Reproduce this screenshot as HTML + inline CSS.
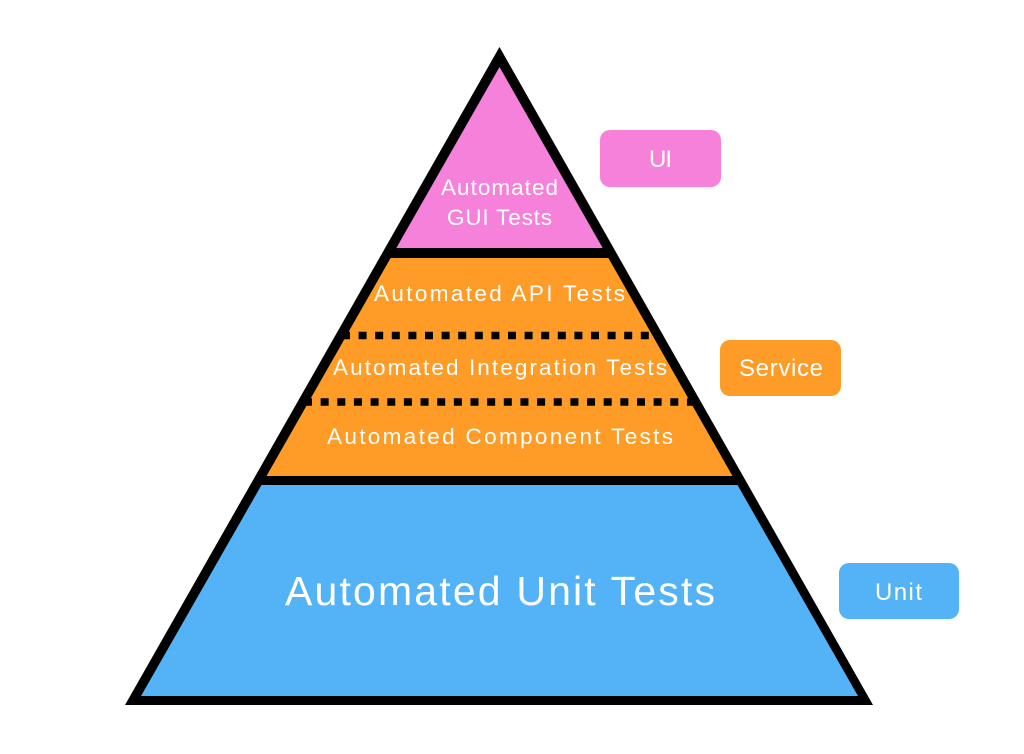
<!DOCTYPE html>
<html>
<head>
<meta charset="utf-8">
<style>
html,body{margin:0;padding:0;background:#fff;width:1024px;height:754px;overflow:hidden}
svg{display:block}
text{font-family:"Liberation Sans",sans-serif;fill:#fff;font-size:22.5px}
</style>
</head>
<body>
<svg width="1024" height="754" viewBox="0 0 1024 754" xmlns="http://www.w3.org/2000/svg">
<rect width="1024" height="754" fill="#fff"/>
<polygon points="499.5,47 873,705 125,705" fill="#000"/>
<polygon points="499.5,67 602.7,248 396.3,248" fill="#F681DA"/>
<polygon points="390.6,258 608.4,258 732.5,476 266.5,476" fill="#FE9C27"/>
<polygon points="261.5,485 737.5,485 858,696 141,696" fill="#53B3F6"/>
<line x1="342" y1="335.5" x2="652" y2="335.5" stroke="#000" stroke-width="7.5" stroke-dasharray="8 8.6"/>
<line x1="304" y1="402" x2="696" y2="402" stroke="#000" stroke-width="7.5" stroke-dasharray="8 8.65"/>
<rect x="600" y="130" width="121" height="57" rx="10" fill="#F681DA"/>
<rect x="720" y="340" width="121" height="56" rx="10" fill="#FE9C27"/>
<rect x="839" y="563" width="120" height="56" rx="10" fill="#53B3F6"/>
<text x="441" y="195" textLength="117" lengthAdjust="spacing">Automated</text>
<text x="447" y="225" textLength="105" lengthAdjust="spacing">GUI Tests</text>
<text x="374" y="301" textLength="251" lengthAdjust="spacing">Automated API Tests</text>
<text x="333" y="375" textLength="334" lengthAdjust="spacing">Automated Integration Tests</text>
<text x="327" y="444" textLength="346" lengthAdjust="spacing">Automated Component Tests</text>
<text x="285" y="605" textLength="430" lengthAdjust="spacing" style="font-size:41px">Automated Unit Tests</text>
<text x="649" y="167" textLength="23" lengthAdjust="spacing" style="font-size:24px">UI</text>
<text x="739" y="376" textLength="84" lengthAdjust="spacing" style="font-size:24px">Service</text>
<text x="875" y="600" textLength="47" lengthAdjust="spacing" style="font-size:24px">Unit</text>
</svg>
</body>
</html>
